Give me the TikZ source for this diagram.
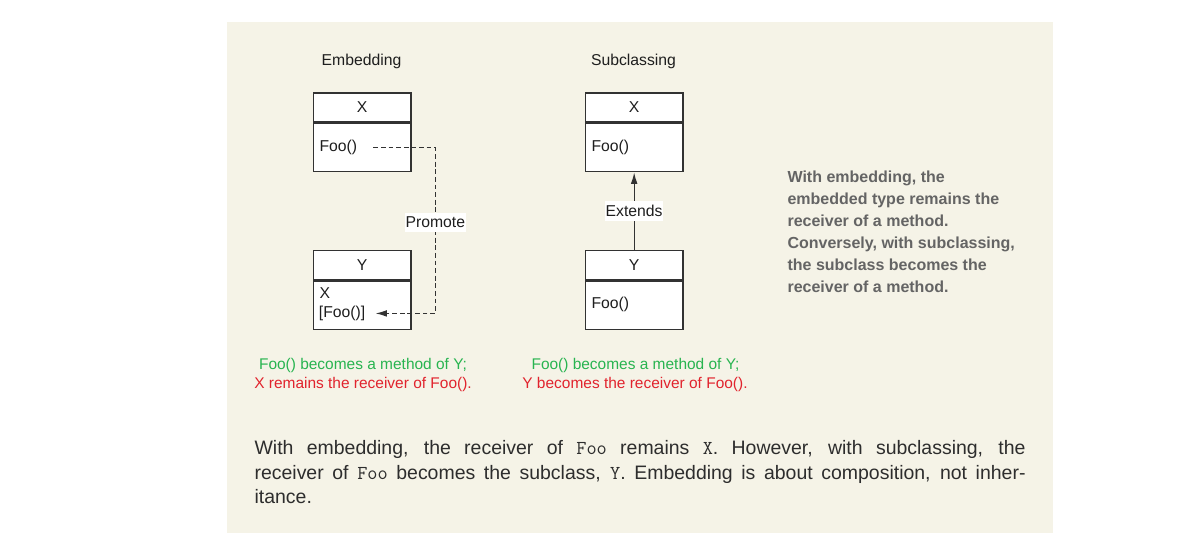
\documentclass[tikz,border=0pt]{standalone}
\usepackage{fontspec}
\setmainfont{Liberation Sans}
\usetikzlibrary{arrows.meta}
\definecolor{bgc}{RGB}{245,243,231}
\definecolor{linec}{RGB}{50,50,50}
\definecolor{txtc}{RGB}{30,30,30}
\definecolor{graytxt}{RGB}{100,100,100}
\definecolor{grn}{RGB}{40,180,80}
\definecolor{rd}{RGB}{225,35,45}
\definecolor{bodytxt}{RGB}{45,45,45}
\tikzset{
  hdr/.style={draw=linec, fill=white, line width=1pt, minimum width=73.2pt, minimum height=21.75pt, inner sep=0pt, anchor=north west, font=\fontsize{11.8}{14}\selectfont, text=txtc},
  bdy/.style={draw=linec, fill=white, line width=1pt, minimum width=73.2pt, minimum height=36.4pt, inner sep=0pt, anchor=north west},
  btxt/.style={anchor=base west, inner sep=0pt, font=\fontsize{11.8}{14}\selectfont, text=txtc},
  ttl/.style={anchor=base, inner sep=0pt, font=\fontsize{11.8}{14}\selectfont, text=txtc},
  lbl/.style={fill=white, inner xsep=0.5pt, inner ysep=0pt, font=\fontsize{11.8}{14}\selectfont, text=txtc},
  note/.style={anchor=base, inner sep=0pt, font=\fontsize{11.6}{14}\selectfont},
  side/.style={anchor=base west, inner sep=0pt, font=\fontsize{12}{14}\selectfont\bfseries, text=graytxt},
  para/.style={anchor=base west, inner sep=0pt, font=\fontsize{14.6}{18}\selectfont, text=bodytxt},
  dashline/.style={draw=linec, line width=0.8pt, dash pattern=on 3.6pt off 2.1pt},
  tip/.style={-{Latex[length=8.5pt,width=5pt]}}
}
\newcommand{\mf}[1]{{\ttfamily\fontsize{14.8}{18}\selectfont #1}}
\begin{document}
\begin{tikzpicture}[x=0.75pt,y=-0.75pt]
\useasboundingbox (0,0) rectangle (1179,548);
\fill[white] (0,0) rectangle (1179,548);
\fill[bgc] (227,22) rectangle (1053,533);

% titles
\node[ttl] (t1) at (361.5,65.7) {Embedding};
\node[ttl] (t2) at (633.5,65.7) {Subclassing};

% Embedding X
\node[hdr] (x1h) at (312.7,92.3) {X};
\node[bdy] (x1b) at (x1h.south west) {};
\node[btxt] (foo1) at (319.3,151.7) {Foo()};
% Embedding Y
\node[hdr] (y1h) at (312.7,250) {Y};
\node[bdy] (y1b) at (y1h.south west) {};
\node[btxt] (ex) at (319.3,299) {X};
\node[btxt] (foo2) at (318.7,317.5) {[Foo()]};

% Subclassing X
\node[hdr] (x2h) at (584.7,92.3) {X};
\node[bdy] (x2b) at (x2h.south west) {};
\node[btxt] (foo3) at (591.3,151.7) {Foo()};
% Subclassing Y
\node[hdr] (y2h) at (584.7,250) {Y};
\node[bdy] (y2b) at (y2h.south west) {};
\node[btxt] (foo4) at (591.3,308.3) {Foo()};

% Promote connector
\coordinate (bend) at (435.3,230);
\draw[dashline,tip] ([xshift=12pt]foo1.east) -| (bend) |- ([xshift=7.5pt]foo2.east);
\node[lbl, minimum height=13.8pt] (prom) at (435.3,222.5) {Promote};

% Extends connector
\draw[draw=linec, line width=0.8pt, tip] (y2h.north) -- (x2b.south)
  node[lbl, midway, minimum height=15pt] (ext) {Extends};

% notes
\node[note, text=grn] (n1g) at (363,370) {Foo() becomes a method of Y;};
\node[note, text=rd] (n1r) at (363,388.3) {X remains the receiver of Foo().};
\node[note, text=grn] (n2g) at (635.5,370) {Foo() becomes a method of Y;};
\node[note, text=rd] (n2r) at (635,388.3) {Y becomes the receiver of Foo().};

% side text
\node[side] (s1) at (787.3,182.3) {With embedding, the};
\node[side] (s2) at (787.3,204.4) {embedded type remains the};
\node[side] (s3) at (787.3,226.5) {receiver of a method.};
\node[side] (s4) at (787.3,248.6) {Conversely, with subclassing,};
\node[side] (s5) at (787.3,270.7) {the subclass becomes the};
\node[side] (s6) at (787.3,292.8) {receiver of a method.};

% paragraph
\node[para] (p1) at (254.3,455) {\makebox[578.25pt][s]{With embedding, the receiver of \mf{Foo} remains \mf{X}. However, with subclassing, the}};
\node[para] (p2) at (254.3,479.3) {\makebox[578.25pt][s]{receiver of \mf{Foo} becomes the subclass, \mf{Y}. Embedding is about composition, not inher-}};
\node[para] (p3) at (254.3,503.3) {itance.};
\end{tikzpicture}
\end{document}
